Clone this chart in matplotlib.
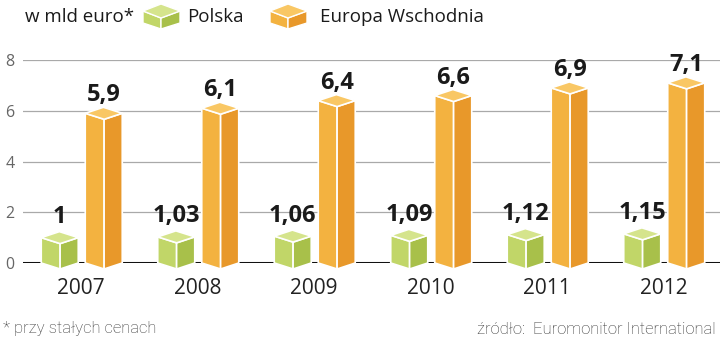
import numpy as np
import matplotlib
matplotlib.use("Agg")
from matplotlib import pyplot as plt
from matplotlib.patches import Polygon

years = ["2007", "2008", "2009", "2010", "2011", "2012"]
polska = [1.0, 1.03, 1.06, 1.09, 1.12, 1.15]
europa = [5.9, 6.1, 6.4, 6.6, 6.9, 7.1]
polska_labels = ["1", "1,03", "1,06", "1,09", "1,12", "1,15"]
europa_labels = ["5,9", "6,1", "6,4", "6,6", "6,9", "7,1"]

green = {"top": "#d5e48c", "left": "#c1d668", "right": "#a8c04a"}
orange = {"top": "#f9c764", "left": "#f3b240", "right": "#e8982a"}

W, H = 720, 342
fig = plt.figure(figsize=(W / 100, H / 100), dpi=100)
ax = fig.add_axes([23 / W, 79 / H, 697 / W, 203 / H])
ax.set_xlim(-0.50, 5.483)
ax.set_ylim(0, 8)

# piksele -> jednostki danych
px_x = (5.483 + 0.50) / 697
px_y = 8 / 203


def box(ax, xl, w, h, col):
    d = 6 * px_y
    xm = xl + w * 0.51
    xr = xl + w
    faces = [
        ([(xl, 0), (xm, -d), (xm, h - d), (xl, h)], col["left"]),
        ([(xm, -d), (xr, 0), (xr, h), (xm, h - d)], col["right"]),
        ([(xl, h), (xm, h - d), (xr, h), (xl + w * 0.49, h + d)], col["top"]),
    ]
    for pts, c in faces:
        ax.add_patch(Polygon(pts, closed=True, facecolor=c, edgecolor="white",
                             lw=1.2, joinstyle="round", zorder=3, clip_on=False))


x = np.arange(len(years))
bw = 37 * px_x
for i in x:
    gl = i - 40 * px_x
    ol = i + 4 * px_x
    box(ax, gl, bw, polska[i], green)
    box(ax, ol, bw, europa[i], orange)
    ax.annotate(polska_labels[i], (gl + bw / 2, polska[i]), xytext=(0, 10.5),
                textcoords="offset points", ha="center", va="baseline",
                fontsize=17, fontweight="bold", family="Open Sans", color="#1a1a1a")
    ax.annotate(europa_labels[i], (ol + bw / 2, europa[i]), xytext=(0, 8.5),
                textcoords="offset points", ha="center", va="baseline",
                fontsize=17, fontweight="bold", family="Open Sans", color="#1a1a1a")

for gy in [2, 4, 6, 8]:
    ax.axhline(gy, color="#a9a9a9", lw=0.9, zorder=1)
ax.axhline(0, color="#111111", lw=2.2, zorder=2)

for s in ax.spines.values():
    s.set_visible(False)
ax.set_yticks([0, 2, 4, 6, 8])
ax.set_yticklabels(["0", "2", "4", "6", "8"], family="Open Sans", fontsize=11.5,
                   color="#666666")
ax.set_xticks(x)
ax.set_xticklabels(years, family="Open Sans", fontsize=15, color="#222222")
ax.tick_params(axis="y", length=0, pad=6)
ax.tick_params(axis="x", length=0, pad=11)

# nagłówek z legendą i stopka w pikselach
ov = fig.add_axes([0, 0, 1, 1], zorder=5)
ov.set_xlim(0, W)
ov.set_ylim(H, 0)
ov.axis("off")
ov.patch.set_alpha(0)


def legend_cube(x0, col):
    w, m = 37, 18
    faces = [
        ([(x0, 11), (x0 + m, 18), (x0 + m, 29), (x0, 23)], col["left"]),
        ([(x0 + m, 18), (x0 + w, 11), (x0 + w, 23), (x0 + m, 29)], col["right"]),
        ([(x0, 11), (x0 + m, 18), (x0 + w, 11), (x0 + m, 4)], col["top"]),
    ]
    for pts, c in faces:
        ov.add_patch(Polygon(pts, closed=True, facecolor=c, edgecolor="white", lw=1))


ov.text(25, 17, "w mld euro*", fontsize=13.5, family="Open Sans", color="#1a1a1a",
        va="center", ha="left")
legend_cube(143, green)
ov.text(187, 17, "Polska", fontsize=13.5, family="Open Sans", color="#1a1a1a",
        va="center", ha="left")
legend_cube(270, orange)
ov.text(320, 17, "Europa Wschodnia", fontsize=13.5, family="Open Sans", color="#1a1a1a",
        va="center", ha="left")

ov.text(3, 329, "* przy stałych cenach", fontsize=12, family="Roboto",
        fontweight="light", color="#333333", va="center", ha="left")
ov.text(716, 329, "źródło:  Euromonitor International", fontsize=12, family="Roboto",
        fontweight="light", color="#333333", va="center", ha="right")

fig.savefig("out.png", dpi=100)
